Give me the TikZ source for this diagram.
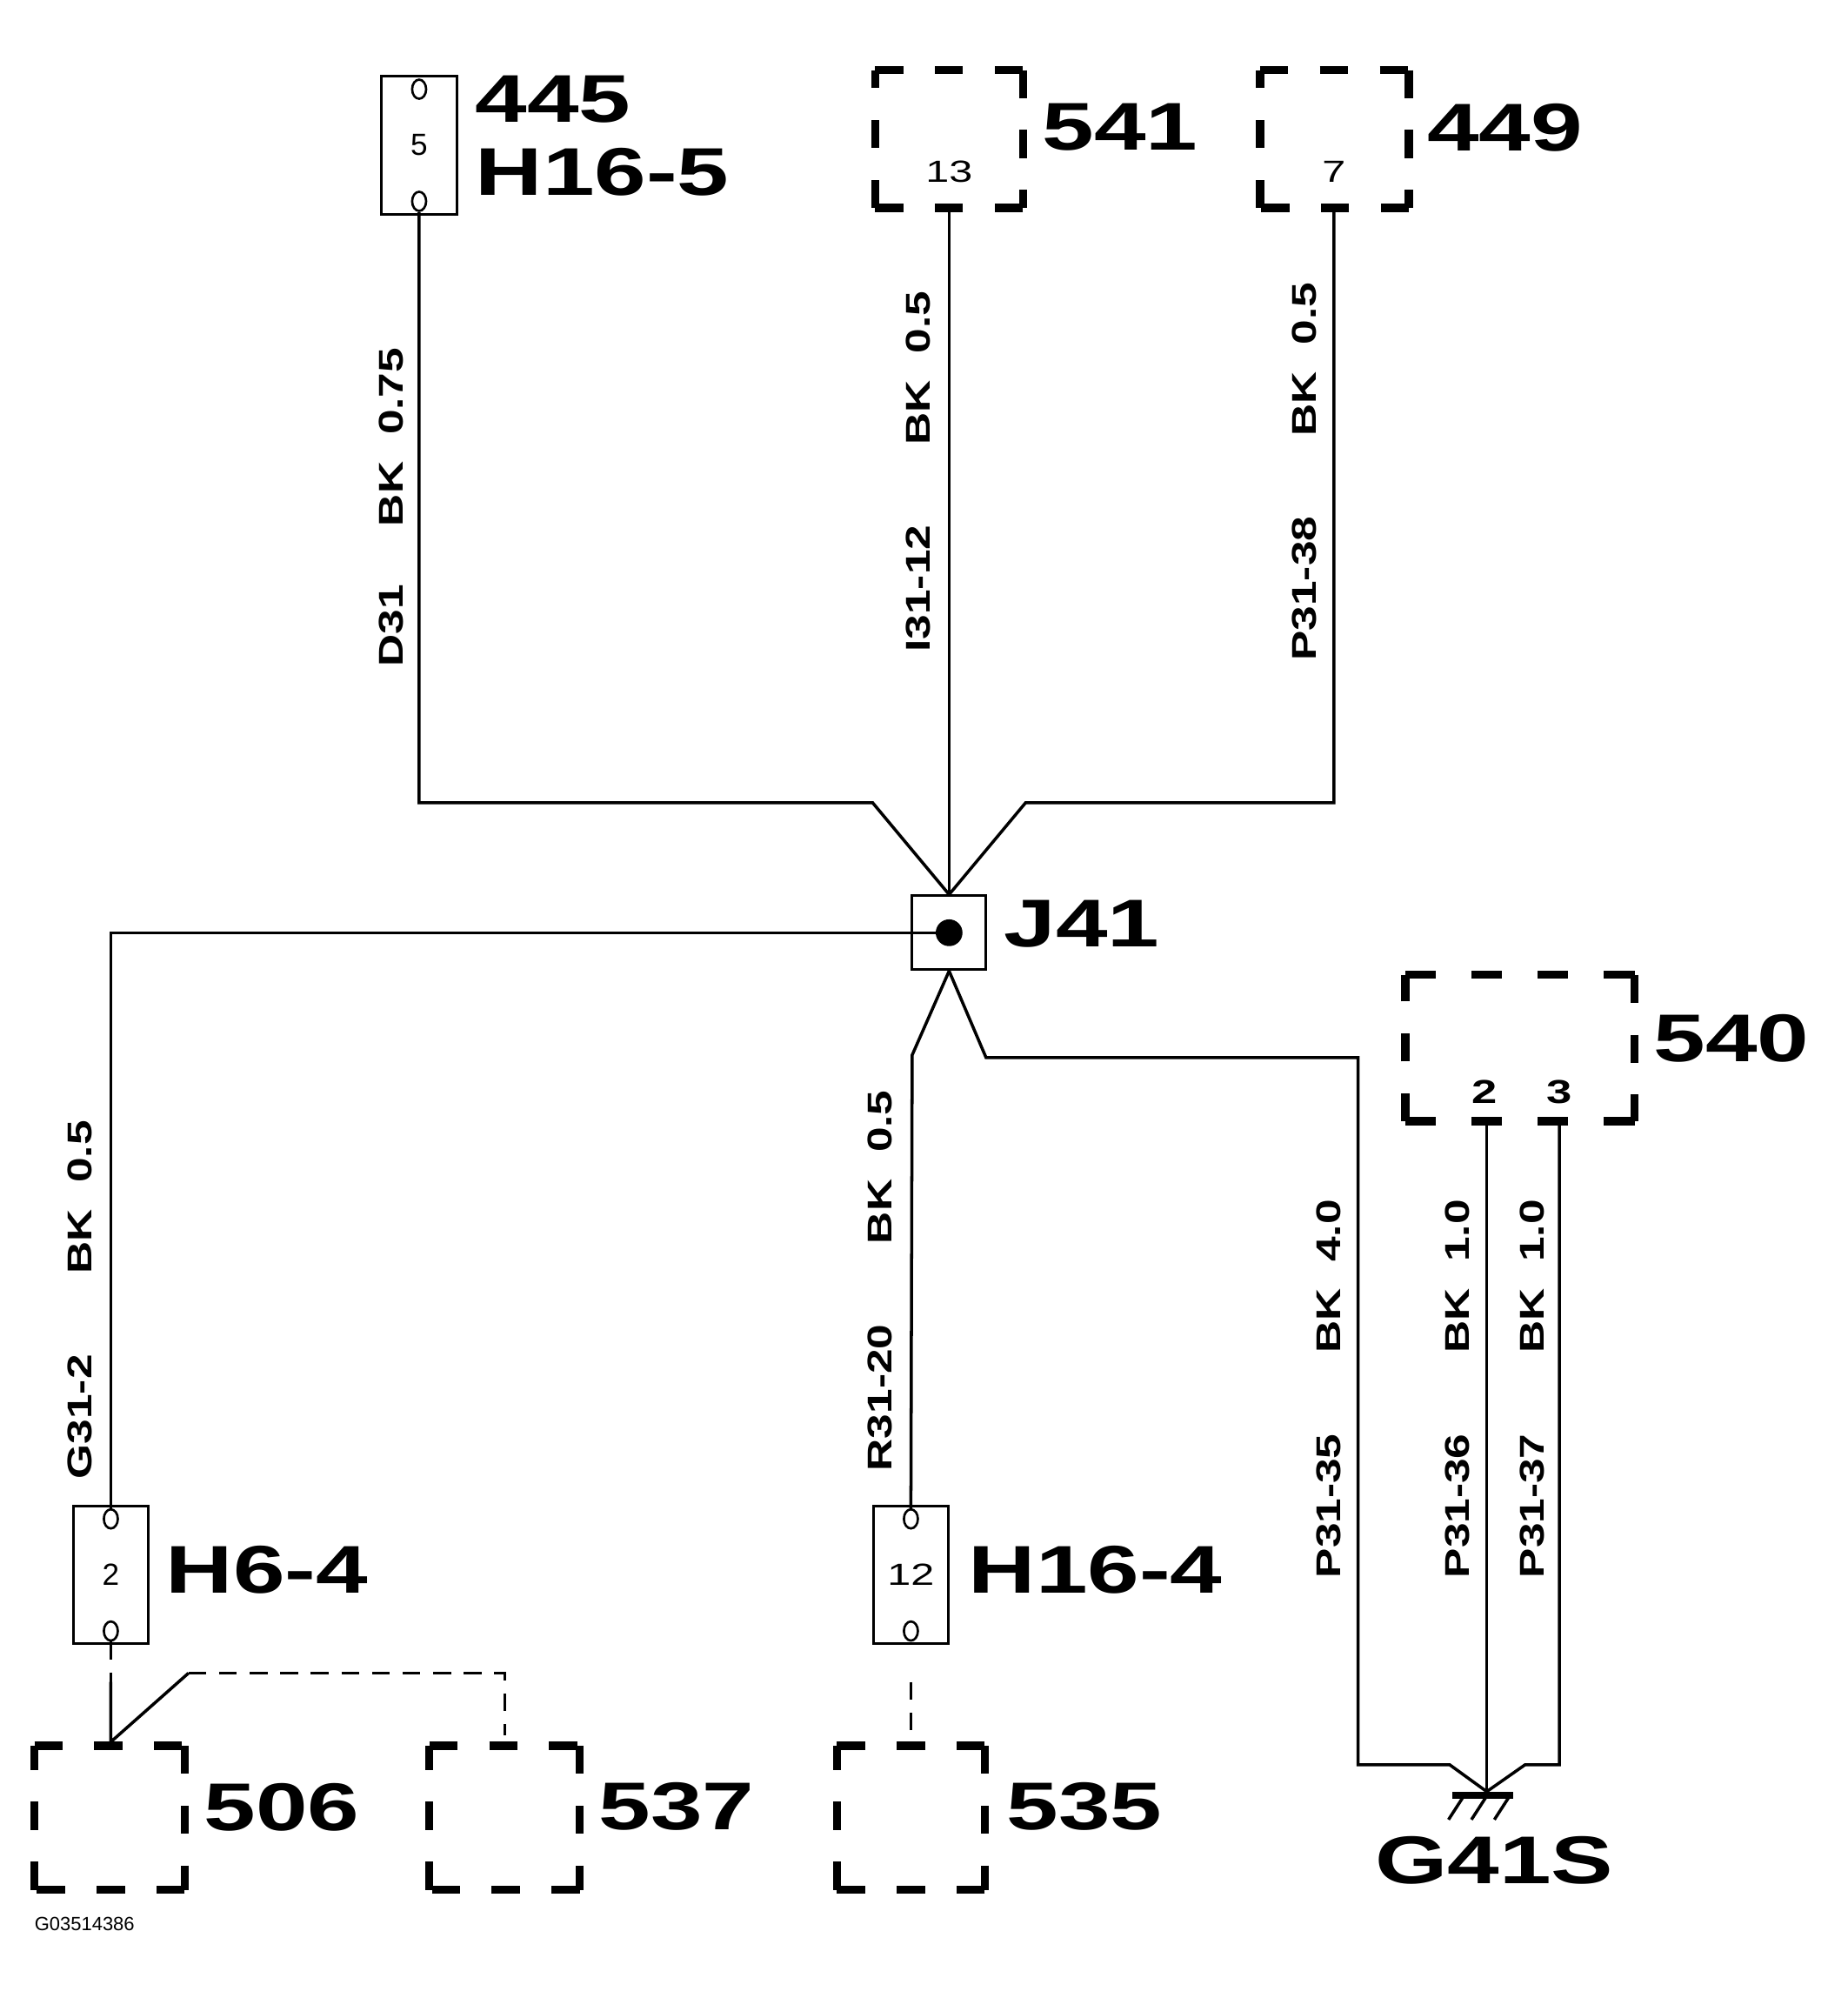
\documentclass[tikz,border=0pt]{standalone}
\usepackage{fontspec}
\setmainfont{Liberation Sans}
\usetikzlibrary{shapes.geometric}
\newcommand{\wide}[1]{\scalebox{1.38}[1]{#1}}
\newcommand{\wlt}[1]{\scalebox{1.3}[1]{#1}}
\begin{document}
\begin{tikzpicture}[x=1pt,y=-1pt,
  wire/.style={line width=2.4pt},
  big/.style={font=\bfseries\fontsize{53}{60}\selectfont, anchor=west, inner sep=0pt},
  wl/.style={font=\bfseries\fontsize{27}{30}\selectfont, rotate=90, inner sep=0pt},
  pin/.style={font=\fontsize{24}{26}\selectfont, inner sep=0pt},
  fuse/.style={draw, line width=2pt, minimum width=59pt, minimum height=108pt, inner sep=0pt, font=\fontsize{24}{26}\selectfont},
  hole/.style={draw, line width=1.8pt, ellipse, minimum width=11pt, minimum height=15pt, inner sep=0pt},
  dside/.style={line width=6.5pt, dash pattern=on 22pt off 25pt},
  dside2/.style={line width=6.5pt, dash pattern=on 24pt off 28pt},
  thin/.style={line width=2pt, dash pattern=on 14pt off 10pt}]
\useasboundingbox (0,0) rectangle (1450,1568);
\newcommand{\dbox}[4]{%
  \draw[dside] (#1,#2)--(#3,#2); \draw[dside] (#3,#2)--(#3,#4);
  \draw[dside] (#3,#4)--(#1,#4); \draw[dside] (#1,#4)--(#1,#2);}
% top components
\node[fuse] (f445) at (329,114) {5};
\node[hole] (f445a) at (329,70) {}; \node[hole] (f445b) at (329,158) {};
\node[big] (l445) at (373,78) {\wide{445}};
\node[big] (lh165) at (373,135) {\wide{H16-5}};
\dbox{687}{55}{803}{163}
\node[pin] (p13) at (745,135) {\wide{13}};
\node[big] (l541) at (818,100) {\wide{541}};
\dbox{989}{55}{1106}{163}
\node[pin] (p7) at (1047,135) {\wide{7}};
\node[big] (l449) at (1120,100) {\wide{449}};
% J41
\node[draw, line width=2pt, minimum size=58pt, inner sep=0pt] (j41) at (745,732) {};
\fill (745,732) circle (10.5pt);
\coordinate (jc) at (745,732);
\node[big] (lj41) at (788,725) {\wide{J41}};
% wires top
\coordinate (a1) at (329,630); \coordinate (a2) at (685,630);
\coordinate (b1) at (1047,630); \coordinate (b2) at (805,630);
\draw[wire] (f445b.south) -- (a1) -- (a2) -- (j41.north);
\draw[wire] (745,165) -- (j41.north);
\draw[wire] (1047,165) -- (b1) -- (b2) -- (j41.north);
\node[wl] (w1) at (307,398) {\wlt{D31\hspace{1.3em}BK\hspace{0.6em}0.75}};
\node[wl] (w2) at (721,370) {\wlt{I31-12\hspace{1.8em}BK\hspace{0.6em}0.5}};
\node[wl] (w3) at (1024,370) {\wlt{P31-38\hspace{1.8em}BK\hspace{0.6em}0.5}};
% left branch
\node[fuse] (f64) at (87,1236) {2};
\node[hole] (f64a) at (87,1192) {}; \node[hole] (f64b) at (87,1280) {};
\node[big] (lh64) at (130,1232) {\wide{H6-4}};
\coordinate (c1) at (87,732);
\draw[wire] (jc) -- (c1) -- (f64a.north);
\node[wl] (w4) at (63,1020) {\wlt{G31-2\hspace{1.8em}BK\hspace{0.6em}0.5}};
% middle branch
\node[fuse] (f164) at (715,1236) {\wide{12}};
\node[hole] (f164a) at (715,1192) {}; \node[hole] (f164b) at (715,1280) {};
\node[big] (lh164) at (760,1232) {\wide{H16-4}};
\coordinate (d1) at (716,828);
\draw[wire] (j41.south) -- (d1) -- (f164a.north);
\node[wl] (w5) at (691,1005) {\wlt{R31-20\hspace{1.8em}BK\hspace{0.6em}0.5}};
% right branch
\coordinate (e1) at (774,830); \coordinate (e2) at (1066,830);
\coordinate (e3) at (1066,1385); \coordinate (e4) at (1138,1385);
\coordinate (g) at (1167,1406);
\draw[wire] (j41.south) -- (e1) -- (e2) -- (e3) -- (e4) -- (g);
\draw[dside2] (1103,765)--(1283,765); \draw[dside] (1283,765)--(1283,880);
\draw[dside2] (1283,880)--(1103,880); \draw[dside] (1103,880)--(1103,765);
\node[pin, font=\bfseries\fontsize{26}{28}\selectfont] (p2) at (1165,857) {\wide{2}};
\node[pin, font=\bfseries\fontsize{26}{28}\selectfont] (p3) at (1224,857) {\wide{3}};
\node[big] (l540) at (1298,815) {\wide{540}};
\coordinate (h1) at (1224,1385); \coordinate (h2) at (1197,1385);
\draw[wire] (1167,882) -- (g);
\draw[wire] (1224,882) -- (h1) -- (h2) -- (g);
\node[wl] (w6) at (1043,1090) {\wlt{P31-35\hspace{1.8em}BK\hspace{0.6em}4.0}};
\node[wl] (w7) at (1144,1090) {\wlt{P31-36\hspace{1.8em}BK\hspace{0.6em}1.0}};
\node[wl] (w8) at (1203,1090) {\wlt{P31-37\hspace{1.8em}BK\hspace{0.6em}1.0}};
% ground
\draw[line width=5pt] (1140,1409) -- (1188,1409);
\draw[line width=2.4pt] (1148,1411) -- (1137,1428) (1166,1411) -- (1155,1428) (1184,1411) -- (1173,1428);
\node[font=\bfseries\fontsize{53}{60}\selectfont, inner sep=0pt] (lg) at (1173,1460) {\wide{G41S}};
% bottom boxes
\dbox{27}{1370}{145}{1483}
\node[big] (l506) at (160,1418) {\wide{506}};
\dbox{337}{1370}{455}{1483}
\node[big] (l537) at (470,1418) {\wide{537}};
\dbox{657}{1370}{773}{1483}
\node[big] (l535) at (790,1418) {\wide{535}};
\coordinate (k1) at (87,1320); \coordinate (k2) at (87,1367);
\coordinate (m1) at (148,1313); \coordinate (m2) at (396,1313); \coordinate (m3) at (396,1362);
\draw[thin] (f64b.south) -- (k1);
\draw[wire] (k1) -- (k2) -- (m1);
\draw[thin] (m1) -- (m2) -- (m3);
\draw[thin] (715,1320) -- (715,1367);
\node[font=\fontsize{15}{16}\selectfont, anchor=west, inner sep=0pt] (gid) at (27,1510) {G03514386};
\end{tikzpicture}
\end{document}
